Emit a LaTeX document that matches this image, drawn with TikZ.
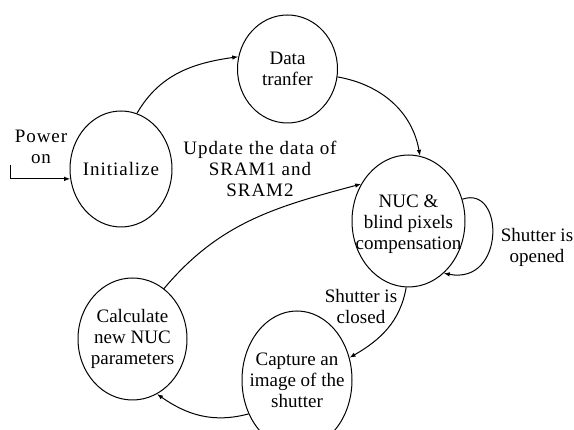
\documentclass[tikz,border=0pt]{standalone}
\usepackage{fontspec}
\setmainfont{Liberation Serif}
\usetikzlibrary{shapes.geometric,arrows.meta}

\begin{document}
\begin{tikzpicture}[x=1pt,y=1pt,
  txt/.style={align=center, inner sep=0pt, font=\fontsize{19}{21}\selectfont},
  wide/.style={font=\fontsize{19}{21}\selectfont\addfontfeature{LetterSpace=5}},
  state/.style={draw, ellipse, line width=1pt, inner sep=0pt},
  flow/.style={line width=1pt, -{Latex[length=6pt,width=4.5pt]}}
]
\useasboundingbox (0,0) rectangle (574,430);

% states
\node[state, minimum width=102pt, minimum height=116pt,
      label={[txt,wide]center:Initialize}] (init) at (121,261) {};
\node[state, minimum width=100pt, minimum height=108pt,
      label={[txt]center:{Data\\tranfer}}] (data) at (287.5,361) {};
\node[state, minimum width=113pt, minimum height=132pt,
      label={[txt,yshift=-3pt]center:{NUC \&\\blind pixels\\compensation}}] (nuc) at (408.5,209) {};
\node[state, minimum width=109pt, minimum height=122pt,
      label={[txt]center:{Calculate\\new NUC\\parameters}}] (calc) at (132.5,91) {};
\node[state, minimum width=110pt, minimum height=138pt,
      label={[txt]center:{Capture an\\image of the\\shutter}}] (cap) at (297,50) {};

% free labels
\node[txt,wide] (pw) at (41,283) {Power\\on};
\node[txt,wide] (upd) at (260,261) {Update the data of\\SRAM1 and\\SRAM2};
\node[txt] (opened) at (537,183) {Shutter is\\opened};
\node[txt] (closed) at (361,123) {Shutter is\\closed};

% transitions
\coordinate (pwr) at (10,265);
\draw[flow] (pwr) |- (init.191);
\draw[flow] (init.74) to[out=60,in=188] (data.166);
\draw[flow] (data.-9) to[out=-10,in=100] (nuc.80);
\draw[flow] (calc.58) to[out=50,in=195] (nuc.142);
\draw[flow] (nuc.22) .. controls +(42,15) and +(62,-12) .. (nuc.-56);
\draw[flow] (nuc.-92) to[out=-100,in=30] (cap.23);
\draw[flow] (cap.215) to[out=195,in=-35] (calc.-66);
\end{tikzpicture}
\end{document}
